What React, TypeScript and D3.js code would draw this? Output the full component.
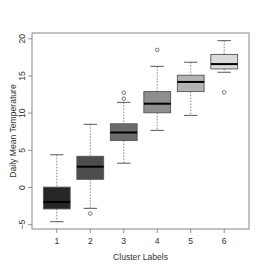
import React from 'react';
import * as d3 from 'd3';

const clusters = ['1', '2', '3', '4', '5', '6'];
const whiskerLow = [-4.6, -2.8, 3.27, 7.68, 9.7, 15.5];
const q1 = [-2.88, 1.1, 6.33, 10.05, 12.9, 15.95];
const medians = [-1.94, 2.8, 7.4, 11.27, 14.2, 16.6];
const q3 = [0.05, 4.2, 8.57, 12.9, 15.1, 17.9];
const whiskerHigh = [4.4, 8.5, 11.45, 16.3, 16.85, 19.75];
const outliers = [[], [-3.5], [12.75, 11.95], [18.5], [], [12.8]];
const fills = ['#262626', '#4d4d4d', '#6b6b6b', '#8e8e8e', '#b4b4b4', '#dadada'];
const yTicks = [-5, 0, 5, 10, 15, 20];

export default function App() {
  const width = 266;
  const height = 271;
  const left = 32, right = 249, top = 33, bottom = 229;

  const x = d3.scaleLinear().domain([0.26, 6.74]).range([left, right]);
  const y = d3.scaleLinear().domain([-5.58, 20.78]).range([bottom, top]);
  const bw = x(1.8) - x(1); // box width 0.8 units
  const font = '"Liberation Sans", Arial, Helvetica, sans-serif';

  return (
    <svg width={width} height={height} style={{ position: 'absolute', left: 0, top: 0 }}>
      <rect width={width} height={height} fill="#fff" />
      {clusters.map((c, i) => {
        const cx = x(i + 1);
        return (
          <g key={c}>
            <line x1={cx} x2={cx} y1={y(whiskerHigh[i])} y2={y(q3[i])} stroke="#666" strokeDasharray="1.5,1.5" strokeWidth={0.8} />
            <line x1={cx} x2={cx} y1={y(q1[i])} y2={y(whiskerLow[i])} stroke="#666" strokeDasharray="1.5,1.5" strokeWidth={0.8} />
            <line x1={cx - bw / 4} x2={cx + bw / 4} y1={y(whiskerHigh[i])} y2={y(whiskerHigh[i])} stroke="#444" strokeWidth={0.9} />
            <line x1={cx - bw / 4} x2={cx + bw / 4} y1={y(whiskerLow[i])} y2={y(whiskerLow[i])} stroke="#444" strokeWidth={0.9} />
            <rect x={cx - bw / 2} width={bw} y={y(q3[i])} height={y(q1[i]) - y(q3[i])} fill={fills[i]} stroke="#555" strokeWidth={0.9} />
            <line x1={cx - bw / 2} x2={cx + bw / 2} y1={y(medians[i])} y2={y(medians[i])} stroke="#000" strokeWidth={2} />
            {outliers[i].map((o, j) => (
              <circle key={j} cx={cx} cy={y(o)} r={1.8} fill="none" stroke="#555" strokeWidth={0.8} />
            ))}
          </g>
        );
      })}
      <rect x={left} y={top} width={right - left} height={bottom - top} fill="none" stroke="#888" strokeWidth={1} />
      {yTicks.map(t => (
        <g key={t}>
          <line x1={left - 4} x2={left} y1={y(t)} y2={y(t)} stroke="#777" strokeWidth={0.8} />
          <text transform={`translate(${22},${y(t)}) rotate(-90)`} textAnchor="middle" dy="0.35em" fontFamily={font} fontSize={8.6} fill="#333">{t < 0 ? '\u2212' + Math.abs(t) : t}</text>
        </g>
      ))}
      {clusters.map((c, i) => (
        <g key={c}>
          <line x1={x(i + 1)} x2={x(i + 1)} y1={bottom} y2={bottom + 4} stroke="#777" strokeWidth={0.8} />
          <text x={x(i + 1)} y={241} textAnchor="middle" dy="0.35em" fontFamily={font} fontSize={8.6} fill="#333">{c}</text>
        </g>
      ))}
      <text x={(left + right) / 2} y={257} textAnchor="middle" dy="0.35em" fontFamily={font} fontSize={8.6} fill="#333">Cluster Labels</text>
      <text transform={`translate(${12.5},${(top + bottom) / 2}) rotate(-90)`} textAnchor="middle" dy="0.35em" fontFamily={font} fontSize={8.6} fill="#333">Daily Mean Temperature</text>
    </svg>
  );
}
